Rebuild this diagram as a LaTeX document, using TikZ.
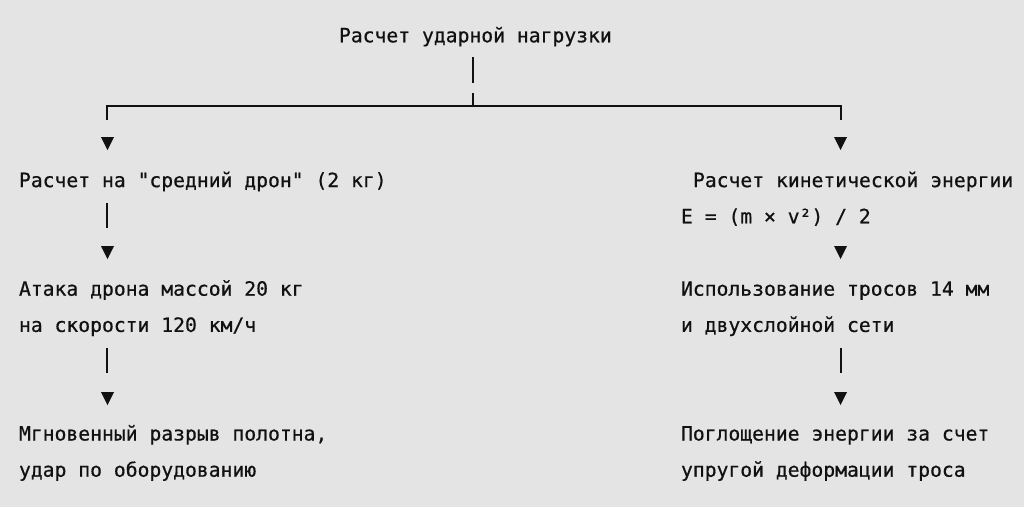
\documentclass[tikz,border=0pt]{standalone}
\usepackage{fontspec}
\newfontfamily\monofam[AutoFakeBold=0.6]{DejaVu Sans Mono}
\definecolor{bgc}{RGB}{228,228,228}
\definecolor{ink}{RGB}{17,17,17}
\begin{document}
\begin{tikzpicture}[x=1pt,y=-1pt,
  txt/.style={anchor=base west,inner sep=0pt,outer sep=0pt,text=ink,font=\monofam\bfseries\fontsize{19.7}{24}\selectfont},
  bar/.style={draw=ink,line width=2pt},
  tip/.style={fill=ink}]
\fill[bgc] (0,0) rectangle (1024,507);
\useasboundingbox (0,0) rectangle (1024,507);
% texts
\node[txt] (title) at (339,42.3) {Расчет ударной нагрузки};
\node[txt] (l1) at (19,187.1) {Расчет на "средний дрон" (2 кг)};
\node[txt] (l2a) at (19,295.7) {Атака дрона массой 20 кг};
\node[txt] (l2b) at (19,331.9) {на скорости 120 км/ч};
\node[txt] (l3a) at (19,440.5) {Мгновенный разрыв полотна,};
\node[txt] (l3b) at (19,476.7) {удар по оборудованию};
\node[txt] (r1a) at (693,187.1) {Расчет кинетической энергии};
\node[txt] (r1b) at (681,223.3) {E = (m × v²) / 2};
\node[txt] (r2a) at (681,295.7) {Использование тросов 14 мм};
\node[txt] (r2b) at (681,331.9) {и двухслойной сети};
\node[txt] (r3a) at (681,440.5) {Поглощение энергии за счет};
\node[txt] (r3b) at (681,476.7) {упругой деформации троса};
% coordinates
\coordinate (top1) at (473,57);
\coordinate (top2) at (473,83);
\coordinate (top3) at (473,93);
\coordinate (hub) at (473,106);
\coordinate (lc) at (107,106);
\coordinate (rc) at (841,106);
\coordinate (lcd) at (107,119);
\coordinate (rcd) at (841,119);
% tree
\draw[bar] (top1) -- (top2);
\draw[bar] (top3) -- (hub);
\draw[bar,line cap=rect] (lcd) -- (lc) -- (rc) -- (rcd);
% vertical bars
\draw[bar] (107,203) -- (107,228);
\draw[bar] (107,348) -- (107,373);
\draw[bar] (841,348) -- (841,373);
% triangles
\foreach \cx in {107.5,840.5}{
  \foreach \ty in {137,246,392}{
    \fill[tip] (\cx-6.5,\ty) -- (\cx+6.5,\ty) -- (\cx,\ty+13) -- cycle;
  }
}
\end{tikzpicture}
\end{document}
